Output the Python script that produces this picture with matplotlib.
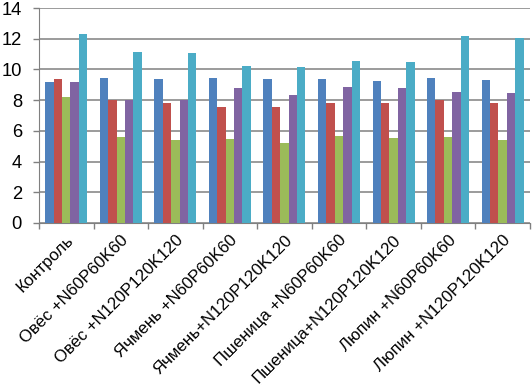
import matplotlib.pyplot as plt
import numpy as np

plt.rcParams['font.family'] = ['Liberation Sans', 'DejaVu Sans']

categories = ['Контроль', 'Овёс +N60P60K60', 'Овёс +N120P120K120',
              'Ячмень +N60P60K60', 'Ячмень+N120P120K120', 'Пшеница +N60P60K60',
              'Пшеница+N120P120K120', 'Люпин +N60P60K60', 'Люпин +N120P120K120']

s1 = [9.19, 9.47, 9.40, 9.42, 9.36, 9.36, 9.25, 9.47, 9.34]
s2 = [9.40, 8.00, 7.84, 7.58, 7.58, 7.84, 7.80, 8.00, 7.84]
s3 = [8.23, 5.62, 5.41, 5.45, 5.23, 5.69, 5.54, 5.62, 5.41]
s4 = [9.20, 8.00, 8.00, 8.80, 8.36, 8.84, 8.82, 8.54, 8.45]
s5 = [12.29, 11.16, 11.05, 10.23, 10.18, 10.57, 10.49, 12.18, 12.07]

colors = ['#4F81BD', '#C0504D', '#9BBB59', '#8064A2', '#4BACC6']
series = [s1, s2, s3, s4, s5]

fig = plt.figure(figsize=(5.32, 3.85), dpi=100)
ax = fig.add_axes([0.0733, 0.421, 0.9227, 0.558])

x = np.arange(len(categories))
w = 0.154
for i, (vals, c) in enumerate(zip(series, colors)):
    ax.bar(x + (i - 2) * w, vals, width=w, color=c, zorder=3)

ax.set_xlim(-0.5, len(categories) - 0.5)
ax.set_ylim(0, 14)
ax.set_yticks(range(0, 15, 2))
ax.yaxis.grid(True, color='#808080', linewidth=1.1, zorder=0)

ax.set_xticks(x)
ax.set_xticklabels(categories, rotation=45, ha='right', rotation_mode='anchor', fontsize=12.2)
ax.set_xticks(np.arange(-0.5, len(categories), 1), minor=True)
ax.tick_params(axis='x', which='major', length=0, pad=7)
ax.tick_params(axis='x', which='minor', length=4, color='#808080', width=1)
ax.tick_params(axis='y', length=4.3, color='#808080', width=1, pad=8, labelsize=13.2)

for s in ['top', 'right']:
    ax.spines[s].set_visible(False)
ax.spines['left'].set_color('#808080')
ax.spines['bottom'].set_color('#808080')

fig.savefig('out.png', dpi=100)
